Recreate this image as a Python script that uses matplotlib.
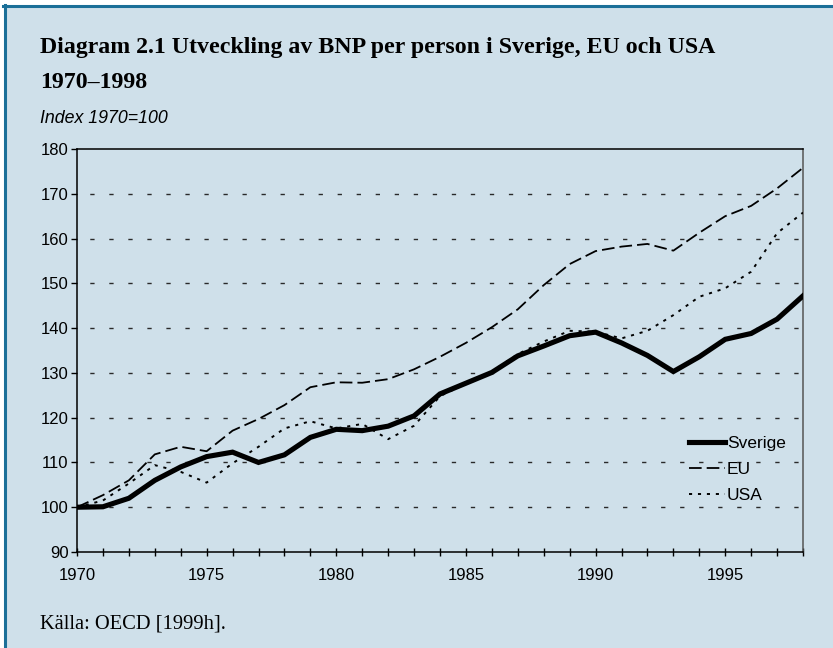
import matplotlib
matplotlib.use("Agg")
import matplotlib.pyplot as plt
from matplotlib.patches import Rectangle
from matplotlib.lines import Line2D

years = list(range(1970, 1999))
sverige = [100, 100.1, 102, 106, 109, 111.3, 112.3, 110, 111.7, 115.6, 117.4, 117.1, 118.1, 120.4,
           125.3, 127.7, 130.1, 133.8, 136, 138.3, 139.1, 136.7, 133.9, 130.3, 133.6, 137.5, 138.8, 142, 147.2]
eu = [100, 102.7, 106, 111.8, 113.5, 112.5, 117.1, 119.7, 122.8, 126.8, 127.9, 127.8, 128.6, 130.8,
      133.6, 136.7, 140.2, 144.2, 149.6, 154.3, 157.2, 158.2, 158.8, 157.3, 161.3, 165, 167.3, 171.2, 175.8]
usa = [100, 101.5, 105.3, 109.4, 107.9, 105.5, 109.8, 113.5, 117.6, 119.2, 117.6, 118.6, 115.2, 118.2,
       124.8, 127.6, 130.3, 134.2, 137, 139.4, 139.2, 137.7, 139.4, 142.9, 147, 148.9, 152.6, 161.2, 165.8]
series_labels = ["Sverige", "EU", "USA"]
yticks = list(range(90, 181, 10))
xlabel_years = [1970, 1975, 1980, 1985, 1990, 1995]

title1 = "Diagram 2.1 Utveckling av BNP per person i Sverige, EU och USA"
title2 = "1970\u20131998"
unit_label = "Index 1970=100"
source = "K\u00e4lla: OECD [1999h]."

W, H = 833, 648
BG = "#cfe0ea"
BORDER = "#1b6f98"

fig = plt.figure(figsize=(W / 100, H / 100), dpi=100)
fig.patch.set_facecolor("white")
# panel background and borders
fig.patches.append(Rectangle((4 / W, 0), 1, 1 - 5 / H, transform=fig.transFigure,
                             facecolor=BG, edgecolor="none", zorder=-10))
fig.lines.append(Line2D([3 / W, 1], [1 - 6 / H, 1 - 6 / H], transform=fig.transFigure,
                        color=BORDER, lw=2.2, zorder=-5))
fig.lines.append(Line2D([5 / W, 5 / W], [0, 1 - 5 / H], transform=fig.transFigure,
                        color=BORDER, lw=2.2, zorder=-5))

ax = fig.add_axes([77 / W, 1 - 552 / H, (803 - 77) / W, (552 - 149) / H])
ax.set_facecolor("none")

ax.plot(years, sverige, color="black", lw=3.7, solid_joinstyle="miter", label=series_labels[0], zorder=4)
ax.plot(years, eu, color="black", lw=1.3, linestyle=(0, (7, 2.8)), label=series_labels[1], zorder=3)
ax.plot(years, usa, color="black", lw=1.4, linestyle=(0, (1.6, 3.0)), label=series_labels[2], zorder=3)

ax.set_xlim(1970, 1998)
ax.set_ylim(90, 180)
ax.set_yticks(yticks)
ax.set_xticks(years)
ax.set_xticklabels([str(y) if y in xlabel_years else "" for y in years])

for v in yticks[1:-1]:
    ax.axhline(v, color="#2a2a2a", lw=1.0, linestyle=(4.5, (3.1, 10.6)), zorder=1)

for s in ["left", "bottom", "top"]:
    ax.spines[s].set_color("black")
    ax.spines[s].set_linewidth(1.1)
ax.spines["right"].set_color("#555555")
ax.spines["right"].set_linewidth(1.1)

ax.tick_params(axis="y", direction="out", length=4.5, width=1, pad=1.5,
               labelsize=12, labelfontfamily="Liberation Sans")
ax.tick_params(axis="x", direction="inout", length=6, width=1, pad=8.5,
               labelsize=12, labelfontfamily="Liberation Sans")

leg = ax.legend(loc="upper left", bbox_to_anchor=(0.833, 0.305), frameon=False,
                prop={"family": "Liberation Sans", "size": 12.5}, handlelength=2.1,
                handletextpad=0.1, labelspacing=0.62, borderaxespad=0)

fig.text(40 / W, 1 - 53 / H, title1, family="Liberation Serif", weight="bold",
         fontsize=17.2, va="baseline", ha="left")
fig.text(40 / W, 1 - 88 / H, title2, family="Liberation Serif", weight="bold",
         fontsize=17.2, va="baseline", ha="left")
fig.text(40 / W, 1 - 123 / H, unit_label, family="Liberation Sans", style="italic",
         fontsize=12.8, va="baseline", ha="left")
fig.text(40 / W, 1 - 629 / H, source, family="Liberation Serif",
         fontsize=14.8, va="baseline", ha="left")

fig.savefig("out.png", dpi=100, facecolor=fig.get_facecolor())
